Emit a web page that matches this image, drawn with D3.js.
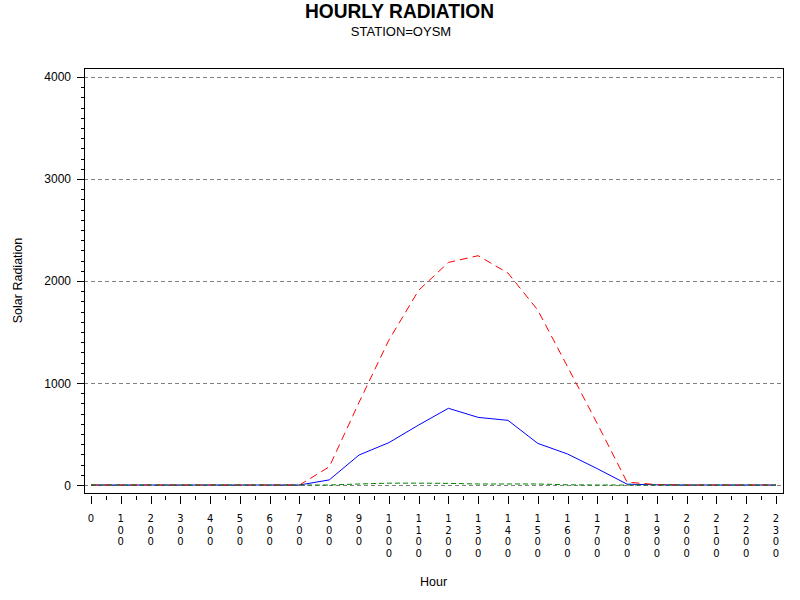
<!DOCTYPE html>
<html>
<head>
<meta charset="utf-8">
<script src="https://cdn.jsdelivr.net/npm/d3@7"></script>
<style>
  body { margin: 0; background: #fff; }
  svg { display: block; font-family: "Liberation Sans", Arial, sans-serif; }
</style>
</head>
<body>
<svg id="chart" width="800" height="600"></svg>
<script>
// ---- data ----
const hours = [0,1,2,3,4,5,6,7,8,9,10,11,12,13,14,15,16,17,18,19,20,21,22,23];
const hourLabels = ["0","100","200","300","400","500","600","700","800","900","1000","1100","1200","1300","1400","1500","1600","1700","1800","1900","2000","2100","2200","2300"];
const blueSeries  = [0,0,0,0,0,0,0,0,50,294,415,588,752,663,634,408,304,160,8,2,0,0,0,0];
const redSeries   = [0,0,0,0,0,0,0,0,178,810,1420,1908,2182,2248,2078,1715,1160,601,28,4,0,0,0,0];
const greenSeries = [0,0,0,0,0,0,0,0,0,10,18,18,16,10,10,10,2,0,0,0,0,0,0,0];
const yMajorTicks = [0,1000,2000,3000,4000];
const titleText = "HOURLY RADIATION";
const subtitleText = "STATION=OYSM";
const xTitle = "Hour";
const yTitle = "Solar Radiation";

// ---- layout ----
const frame = {left: 84, right: 783, top: 68, bottom: 493};
const svg = d3.select("#chart");

const x = d3.scaleLinear().domain([-0.235, 23.235]).range([frame.left, frame.right]);
const y = d3.scaleLinear().domain([-78.4, 4088.2]).range([frame.bottom, frame.top]);

// titles
svg.append("text").attr("x", 399.5).attr("y", 17.5).attr("text-anchor", "middle")
  .attr("font-size", 19.5).attr("font-weight", "bold")
  .attr("textLength", 189).attr("lengthAdjust", "spacingAndGlyphs").text(titleText);
svg.append("text").attr("x", 401).attr("y", 36).attr("text-anchor", "middle")
  .attr("font-size", 13).text(subtitleText);

// grid lines
svg.append("g").selectAll("line").data(yMajorTicks).join("line")
  .attr("x1", frame.left).attr("x2", frame.right)
  .attr("y1", d => Math.round(y(d)) + 0.5).attr("y2", d => Math.round(y(d)) + 0.5)
  .attr("stroke", "#808080").attr("stroke-width", 1).attr("stroke-dasharray", "4,3");

// series
const line = d3.line().x((d, i) => x(hours[i])).y(d => y(d));
const series = [
  {values: blueSeries, color: "#0000ff", dash: null},
  {values: redSeries, color: "#ff0000", dash: "8,5"},
  {values: greenSeries, color: "#008000", dash: "5,3"}
];
svg.append("g").selectAll("path").data(series).join("path")
  .attr("d", d => line(d.values))
  .attr("fill", "none")
  .attr("stroke", d => d.color)
  .attr("stroke-width", 1)
  .attr("stroke-dasharray", d => d.dash);

// frame
svg.append("rect")
  .attr("x", frame.left + 0.5).attr("y", frame.top + 0.5)
  .attr("width", frame.right - frame.left).attr("height", frame.bottom - frame.top)
  .attr("fill", "none").attr("stroke", "#000").attr("stroke-width", 1);

// y ticks (minor every 100)
const yTickVals = d3.range(0, 4001, 100);
svg.append("g").selectAll("line").data(yTickVals).join("line")
  .attr("x1", d => d % 1000 === 0 ? frame.left - 7 : frame.left - 3)
  .attr("x2", frame.left)
  .attr("y1", d => Math.round(y(d)) + 0.5).attr("y2", d => Math.round(y(d)) + 0.5)
  .attr("stroke", "#000");
svg.append("g").selectAll("text").data(yMajorTicks).join("text")
  .attr("x", frame.left - 13).attr("y", d => y(d) + 4.5)
  .attr("text-anchor", "end").attr("font-size", 12).text(d => d);

// x ticks (minor every half hour)
const xTickVals = d3.range(0, 23.01, 0.5);
svg.append("g").selectAll("line").data(xTickVals).join("line")
  .attr("x1", d => Math.round(x(d)) + 0.5).attr("x2", d => Math.round(x(d)) + 0.5)
  .attr("y1", frame.bottom + 3)
  .attr("y2", d => Number.isInteger(d) ? frame.bottom + 11 : frame.bottom + 7)
  .attr("stroke", "#000");

// x tick labels: each character stacked vertically as its own text
const charData = [];
hours.forEach((h, i) => {
  hourLabels[i].split("").forEach((c, j) => charData.push({h, c, j}));
});
svg.append("g").selectAll("text").data(charData).join("text")
  .attr("x", d => x(d.h)).attr("y", d => 521.8 + d.j * 11.8)
  .attr("text-anchor", "middle").attr("font-size", 10)
  .attr("font-family", "'DejaVu Sans', sans-serif").text(d => d.c);

// axis titles
svg.append("text").attr("x", (frame.left + frame.right) / 2).attr("y", 586)
  .attr("text-anchor", "middle").attr("font-size", 12.5).text(xTitle);
svg.append("text").attr("transform", `translate(22, ${(frame.top + frame.bottom) / 2}) rotate(-90)`)
  .attr("text-anchor", "middle").attr("font-size", 12.5).text(yTitle);
</script>
</body>
</html>
